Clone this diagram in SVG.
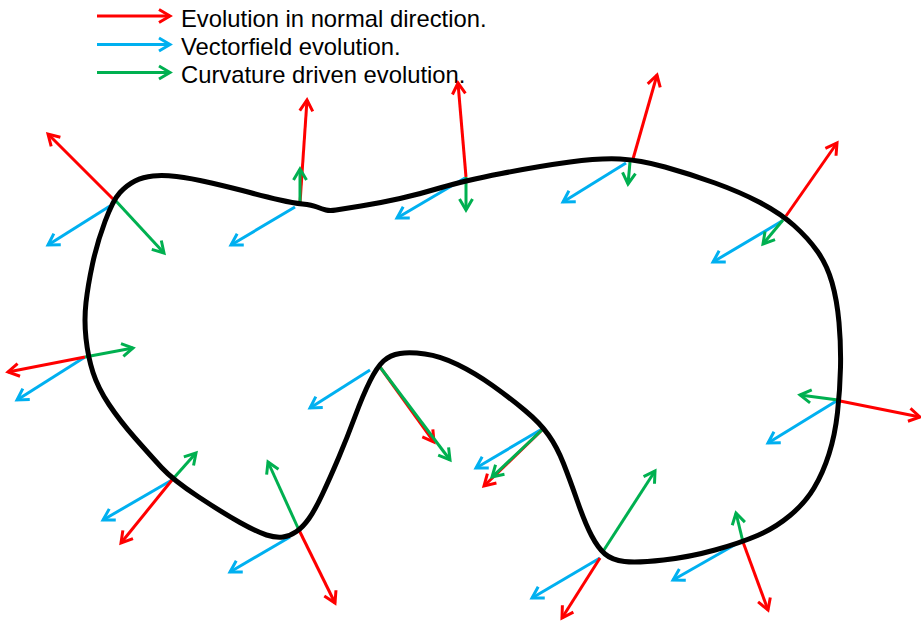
<svg xmlns="http://www.w3.org/2000/svg" width="921" height="628" viewBox="0 0 921 628">
<style>
  .r{stroke:#FF0000;stroke-width:3;fill:none;marker-end:url(#mr)}
  .b{stroke:#00B0F0;stroke-width:3;fill:none;marker-end:url(#mb)}
  .g{stroke:#00B050;stroke-width:3;fill:none;marker-end:url(#mg)}
  .lbl{font-family:"Liberation Sans",Arial,sans-serif;font-size:23.8px;fill:#000}
  .curve{fill:none;stroke:#000;stroke-width:5;stroke-linejoin:round}
</style>
<defs>
  <marker id="mr" viewBox="0 0 14 16" refX="12.5" refY="8" markerWidth="14" markerHeight="16" markerUnits="userSpaceOnUse" orient="auto" overflow="visible">
    <path d="M1.5,1.5 L12.5,8 L1.5,14.5" fill="none" stroke="#FF0000" stroke-width="3"/>
  </marker>
  <marker id="mb" viewBox="0 0 14 16" refX="12.5" refY="8" markerWidth="14" markerHeight="16" markerUnits="userSpaceOnUse" orient="auto" overflow="visible">
    <path d="M1.5,1.5 L12.5,8 L1.5,14.5" fill="none" stroke="#00B0F0" stroke-width="3"/>
  </marker>
  <marker id="mg" viewBox="0 0 14 16" refX="12.5" refY="8" markerWidth="14" markerHeight="16" markerUnits="userSpaceOnUse" orient="auto" overflow="visible">
    <path d="M1.5,1.5 L12.5,8 L1.5,14.5" fill="none" stroke="#00B050" stroke-width="3"/>
  </marker>
</defs>
<rect width="921" height="628" fill="#fff"/>

<g id="legend">
  <line class="r" x1="97" y1="16" x2="170" y2="16"/>
  <line class="b" x1="97" y1="44.5" x2="170" y2="44.5"/>
  <line class="g" x1="97" y1="72.5" x2="170" y2="72.5"/>
  <text class="lbl" x="181" y="27">Evolution in normal direction.</text>
  <text class="lbl" x="181" y="55">Vectorfield evolution.</text>
  <text class="lbl" x="181" y="83">Curvature driven evolution.</text>
</g>

<g id="connectors">
  <g id="p1"><line class="b" x1="110" y1="206" x2="48" y2="245"/><line class="r" x1="113" y1="199" x2="48" y2="134"/><line class="g" x1="115" y1="200" x2="164" y2="253"/></g>
  <g id="p2"><line class="b" x1="295" y1="207" x2="231" y2="245"/><line class="r" x1="300" y1="203" x2="307" y2="100"/><line class="g" x1="300" y1="203" x2="300" y2="169"/></g>
  <g id="p3"><line class="b" x1="465" y1="178" x2="397" y2="218"/><line class="r" x1="466" y1="177" x2="458" y2="83"/><line class="g" x1="466" y1="177" x2="466" y2="210"/></g>
  <g id="p4"><line class="b" x1="626" y1="163" x2="563" y2="202"/><line class="r" x1="633" y1="159" x2="657" y2="75"/><line class="g" x1="630" y1="162" x2="628" y2="184"/></g>
  <g id="p5"><line class="b" x1="782" y1="221" x2="713" y2="262"/><line class="r" x1="786" y1="216" x2="837" y2="143"/><line class="g" x1="783" y1="220" x2="763" y2="244"/></g>
  <g id="p6"><line class="b" x1="838" y1="400" x2="768" y2="443"/><line class="r" x1="840" y1="401" x2="920" y2="417"/><line class="g" x1="838" y1="400" x2="800" y2="395"/></g>
  <g id="p7"><line class="b" x1="738" y1="543" x2="673" y2="580"/><line class="r" x1="743" y1="542" x2="768" y2="610"/><line class="g" x1="743" y1="542" x2="736" y2="513"/></g>
  <g id="p8"><line class="b" x1="600" y1="558" x2="532" y2="598"/><line class="r" x1="600" y1="558" x2="562" y2="618"/><line class="g" x1="602" y1="553" x2="655" y2="471"/></g>
  <g id="p9"><line class="b" x1="542" y1="429" x2="476" y2="468"/><line class="r" x1="542" y1="430" x2="484" y2="486"/><line class="g" x1="542" y1="430" x2="492" y2="477"/></g>
  <g id="p10"><line class="b" x1="370" y1="370" x2="310" y2="408"/><line class="r" x1="380" y1="367" x2="434" y2="442"/><line class="g" x1="380" y1="367" x2="450" y2="460"/></g>
  <g id="p11"><line class="b" x1="290" y1="537" x2="230" y2="572"/><line class="r" x1="298" y1="528" x2="335" y2="603"/><line class="g" x1="298" y1="528" x2="268" y2="462"/></g>
  <g id="p12"><line class="b" x1="172" y1="480" x2="103" y2="520"/><line class="r" x1="172" y1="480" x2="121" y2="543"/><line class="g" x1="172" y1="480" x2="196" y2="453"/></g>
  <g id="p13"><line class="b" x1="85" y1="357" x2="17" y2="400"/><line class="r" x1="85" y1="357" x2="8" y2="372"/><line class="g" x1="85" y1="357" x2="133" y2="348"/></g>
</g>

<g id="curve">
  <path class="curve" d="M105,221.5 Q113,200 120,192.5 Q127,185 135,181 Q143,177 153,176 Q163,175 176.5,176.5 Q190,178 211.5,183 Q233,188 250,192.5 Q267,197 280,200 Q293,203 302.5,204 Q312,205 317,207 Q322,209 326,210 Q330,211 336,210 Q342,209 361,206 Q380,203 400,198.5 Q420,194 441.5,187.5 Q463,181 501.5,173.5 Q540,166 570,162 Q600,158 620,159 Q640,160 665,167 Q690,174 715,183 Q740,192 760,202.5 Q780,213 794,225.5 Q808,238 817.5,251.5 Q827,265 832,282.5 Q837,300 839,322.5 Q841,345 840.5,367.5 Q840,390 837.5,412.5 Q835,435 829,454 Q823,473 814,488 Q805,503 790,515.5 Q775,528 757.5,535.5 Q740,543 715,550 Q690,557 663.5,560 Q637,563 624.5,561.5 Q612,560 605,554 Q598,548 591.5,535.5 Q585,523 577.5,501.5 Q570,480 563.5,463.5 Q557,447 548.5,435 Q540,423 525,410.5 Q510,398 492.5,385.5 Q475,373 457.5,364.5 Q440,356 425,354 Q410,352 400,353.5 Q390,355 383.5,361 Q377,367 370,381 Q363,395 355,416.5 Q347,438 338.5,458 Q330,478 322.5,494 Q315,510 309,518.5 Q303,527 296.5,531.5 Q290,536 283,537 Q276,538 266.5,535 Q257,532 240,522.5 Q223,513 198,496.5 Q173,480 161.5,467.5 Q150,455 135,438 Q120,421 109,404.5 Q98,388 93,372.5 Q88,357 86,338.5 Q84,320 86,302.5 Q88,285 92.5,264 Q97,243 105,221.5 Z"/>
</g>
</svg>
